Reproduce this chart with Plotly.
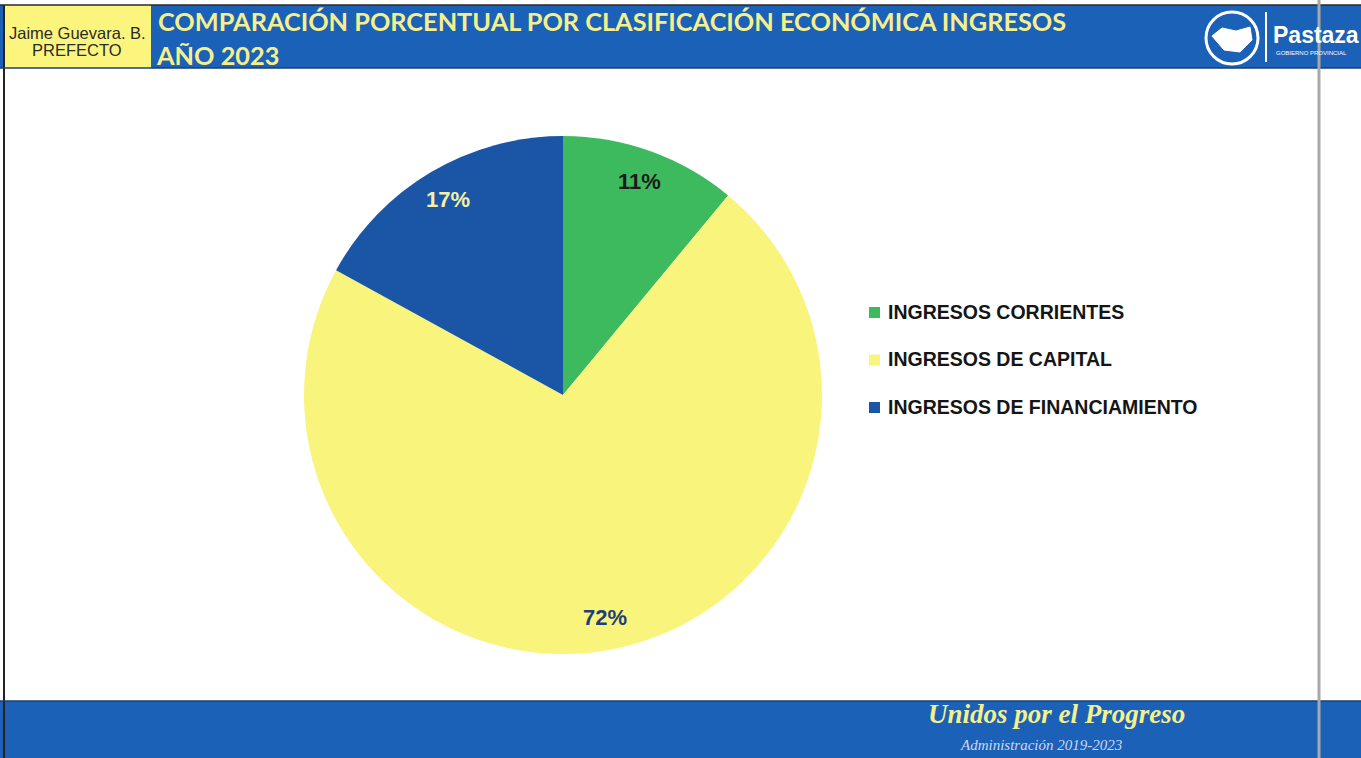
import math
import plotly.graph_objects as go

# ---- data ----
categories = ["INGRESOS CORRIENTES", "INGRESOS DE CAPITAL", "INGRESOS DE FINANCIAMIENTO"]
shares = [11, 72, 17]
slice_colors = ["#3dba5e", "#f8f47c", "#1a55a6"]
label_colors = ["#1b1b1b", "#1f3f78", "#f4f0a6"]

W, H = 1361, 758
def px(x): return x / W
def py(y): return 1 - y / H

fig = go.Figure()

# pie geometry (pixels)
cx, cy, r = 563, 395, 259
fig.add_trace(go.Pie(
    labels=categories, values=shares, sort=False, direction="clockwise",
    rotation=0, marker=dict(colors=slice_colors, line=dict(width=0)),
    textinfo="none", showlegend=False, hoverinfo="label+percent",
    domain=dict(x=[px(cx - r), px(cx + r)], y=[py(cy + r), py(cy - r)]),
))

shapes = []
annotations = []

# percentage labels computed from the data
total = sum(shares)
cum = 0
for v, c in zip(shares, label_colors):
    mid = (cum + v / 2) / total * 2 * math.pi
    cum += v
    rr = 0.875 * r
    lx = cx + rr * math.sin(mid)
    ly = cy - rr * math.cos(mid)
    annotations.append(dict(
        x=px(lx), y=py(ly), xref="paper", yref="paper", showarrow=False,
        text=f"<b>{round(v / total * 100)}%</b>",
        font=dict(family="Liberation Sans, Arial", size=22, color=c),
        xanchor="center", yanchor="middle"))

# legend built from categories / colours
for i, (lab, col) in enumerate(zip(categories, slice_colors)):
    yy = 312 + i * 47.5
    shapes.append(dict(type="rect", xref="paper", yref="paper",
                       x0=px(869), x1=px(880), y0=py(yy + 6), y1=py(yy - 5),
                       fillcolor=col, line=dict(width=0)))
    annotations.append(dict(
        x=px(886), y=py(yy), xref="paper", yref="paper", showarrow=False,
        text=f"<b>{lab}</b>", xanchor="left", yanchor="middle",
        font=dict(family="Liberation Sans, Arial", size=19.5, color="#151515")))

# header band
shapes.append(dict(type="rect", xref="paper", yref="paper", x0=0, x1=1,
                   y0=py(68), y1=py(5), fillcolor="#1b61b8", line=dict(width=0), layer="below"))
shapes.append(dict(type="rect", xref="paper", yref="paper", x0=px(4), x1=px(151),
                   y0=py(68), y1=py(5), fillcolor="#fbf57e", line=dict(width=0), layer="below"))
# footer band
shapes.append(dict(type="rect", xref="paper", yref="paper", x0=0, x1=1,
                   y0=0, y1=py(701), fillcolor="#1b61b8", line=dict(width=0), layer="below"))
# left border line
shapes.append(dict(type="line", xref="paper", yref="paper", x0=px(4), x1=px(4),
                   y0=0, y1=py(5), line=dict(color="#222222", width=2)))
# header/footer dark edges
shapes.append(dict(type="line", xref="paper", yref="paper", x0=0, x1=1,
                   y0=py(5), y1=py(5), line=dict(color="#2a2a2a", width=1.5)))
shapes.append(dict(type="line", xref="paper", yref="paper", x0=0, x1=1,
                   y0=py(68), y1=py(68), line=dict(color="#1a3f70", width=1.5)))
shapes.append(dict(type="line", xref="paper", yref="paper", x0=0, x1=1,
                   y0=py(701), y1=py(701), line=dict(color="#1a3f70", width=1.5)))
# right scan line
shapes.append(dict(type="line", xref="paper", yref="paper", x0=px(1319), x1=px(1319),
                   y0=0, y1=1, line=dict(color="#a8a8a8", width=3)))

# logo
shapes.append(dict(type="circle", xref="paper", yref="paper",
                   x0=px(1206), x1=px(1258), y0=py(64), y1=py(12),
                   line=dict(color="white", width=3)))
shapes.append(dict(type="path", xref="paper", yref="paper",
                   path=f"M {px(1212)},{py(36)} L {px(1222)},{py(28)} L {px(1236)},{py(31)} "
                        f"L {px(1250)},{py(27)} L {px(1252)},{py(40)} L {px(1240)},{py(52)} "
                        f"L {px(1224)},{py(50)} Z",
                   fillcolor="white", line=dict(color="white", width=1)))
shapes.append(dict(type="line", xref="paper", yref="paper", x0=px(1266), x1=px(1266),
                   y0=py(62), y1=py(12), line=dict(color="white", width=2)))

annotations += [
    dict(x=px(77), y=py(33), text="Jaime Guevara. B.", showarrow=False,
         xref="paper", yref="paper", xanchor="center", yanchor="middle",
         font=dict(family="Liberation Sans, Arial", size=16.5, color="#2a2a2a")),
    dict(x=px(77), y=py(50), text="PREFECTO", showarrow=False,
         xref="paper", yref="paper", xanchor="center", yanchor="middle",
         font=dict(family="Liberation Sans, Arial", size=16.5, color="#2a2a2a")),
    dict(x=px(156), y=py(21), text="<b>COMPARACIÓN PORCENTUAL POR CLASIFICACIÓN ECONÓMICA INGRESOS</b>",
         showarrow=False, xref="paper", yref="paper", xanchor="left", yanchor="middle",
         font=dict(family="Lato, Open Sans", size=25.3, color="#f6f08c")),
    dict(x=px(154), y=py(55), text="<b>AÑO 2023</b>",
         showarrow=False, xref="paper", yref="paper", xanchor="left", yanchor="middle",
         font=dict(family="Lato, Open Sans", size=25.3, color="#f6f08c")),
    dict(x=px(1271), y=py(35), text="<b>Pastaza</b>", showarrow=False,
         xref="paper", yref="paper", xanchor="left", yanchor="middle",
         font=dict(family="Liberation Sans, Arial", size=23, color="white")),
    dict(x=px(1274), y=py(53), text="GOBIERNO PROVINCIAL", showarrow=False,
         xref="paper", yref="paper", xanchor="left", yanchor="middle",
         font=dict(family="Liberation Sans, Arial", size=6, color="white")),
    dict(x=px(1056), y=py(714), text="<b><i>Unidos por el Progreso</i></b>", showarrow=False,
         xref="paper", yref="paper", xanchor="center", yanchor="middle",
         font=dict(family="Liberation Serif, DejaVu Serif", size=27, color="#f6f08c")),
    dict(x=px(1041), y=py(745), text="<i>Administración 2019-2023</i>", showarrow=False,
         xref="paper", yref="paper", xanchor="center", yanchor="middle",
         font=dict(family="Liberation Serif, DejaVu Serif", size=15, color="#cdd8ef")),
]

fig.update_layout(
    width=W, height=H, margin=dict(l=0, r=0, t=0, b=0),
    paper_bgcolor="white", plot_bgcolor="white",
    shapes=shapes, annotations=annotations, showlegend=False,
)

fig.write_html("out.html", config={"displayModeBar": False},
               post_script="document.body.style.margin='0';document.body.style.overflow='hidden';")
